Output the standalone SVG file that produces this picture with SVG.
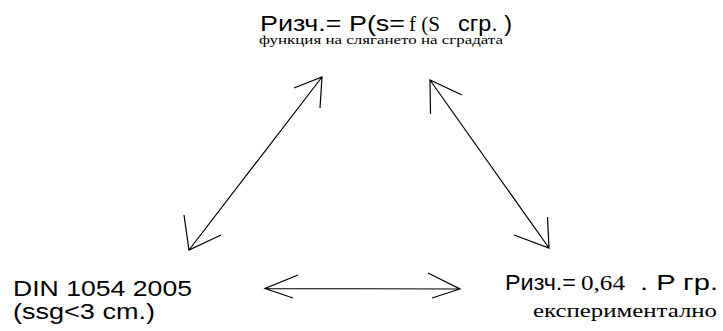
<svg xmlns="http://www.w3.org/2000/svg" width="723" height="331" viewBox="0 0 723 331">
<style>
.sans{font-family:"Liberation Sans",Arial,sans-serif;font-size:22px;fill:#000}
.serif{font-family:"Liberation Serif","Times New Roman",serif;fill:#000}
.ln{stroke:#000;stroke-width:1.2;fill:none}
</style>
<rect width="723" height="331" fill="#fff"/>
<g id="top">
<text class="sans" x="260" y="31" textLength="145" lengthAdjust="spacingAndGlyphs">Ризч.= P(s=</text>
<text class="serif" x="409" y="31" font-size="20" textLength="31" lengthAdjust="spacingAndGlyphs">f (S</text>
<text class="sans" x="458" y="31" textLength="54" lengthAdjust="spacingAndGlyphs">сгр. )</text>
<text class="serif" x="259" y="43.5" font-size="13" textLength="244" lengthAdjust="spacingAndGlyphs">функция на слягането на сградата</text>
</g>
<g id="left">
<text class="sans" x="13" y="296" textLength="179" lengthAdjust="spacingAndGlyphs">DIN 1054 2005</text>
<text class="sans" x="13" y="319" textLength="142" lengthAdjust="spacingAndGlyphs">(ssg&lt;3 cm.)</text>
</g>
<g id="right">
<text class="sans" x="505" y="289.5" textLength="71" lengthAdjust="spacingAndGlyphs">Ризч.=</text>
<text class="serif" x="581" y="289.5" font-size="20" textLength="44" lengthAdjust="spacingAndGlyphs">0,64</text>
<text class="sans" x="640" y="289.5" textLength="78" lengthAdjust="spacingAndGlyphs">. P гр.</text>
<text class="serif" x="533" y="316.5" font-size="18" textLength="184" lengthAdjust="spacingAndGlyphs">експериментално</text>
</g>
<g id="connectors">
<path class="ln" d="M189,250 L322,77 M294,88 L322,77 L320,108 M221,235 L189,250 L184,215"/>
<path class="ln" d="M430,80 L549,248 M462,95 L430,80 L430.5,114 M514,235 L549,248 L547.5,217"/>
<path class="ln" d="M265,288.5 L460,289 M298,275 L265,288.5 L293,298 M428,273 L460,289 L432,298"/>
</g>
</svg>
